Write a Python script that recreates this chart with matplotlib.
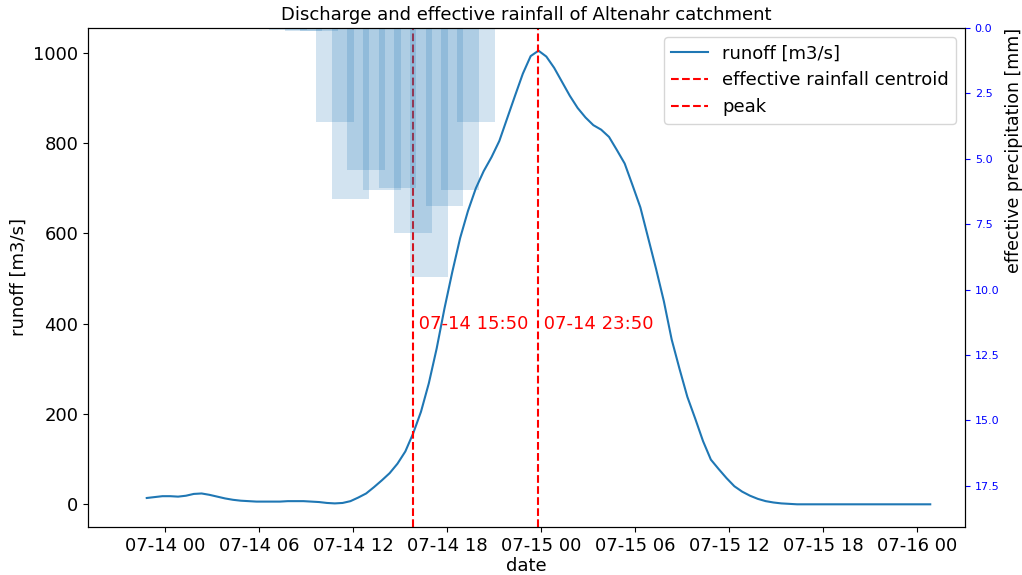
import matplotlib
matplotlib.use("Agg")
import matplotlib.pyplot as plt
import matplotlib.dates as mdates
import numpy as np
import pandas as pd

# runoff [m3/s], every 30 min from 07-13 22:50
runoff_start = "2021-07-13 22:50"
runoff = [
    14, 16, 18, 18, 17, 19, 23, 24, 21, 17,
    13, 10, 8, 7, 6, 6, 6, 6, 7, 7,
    7, 6, 5, 3, 2, 3, 7, 15, 24, 38,
    53, 69, 90, 117, 157, 205, 268, 345, 434, 515,
    590, 650, 700, 738, 769, 805, 855, 905, 954, 993,
    1005, 992, 967, 936, 905, 878, 857, 840, 830, 814,
    785, 755, 707, 658, 590, 522, 450, 365, 300, 238,
    190, 140, 99, 78, 58, 40, 28, 19, 12, 7,
    4, 2, 1, 0, 0, 0, 0, 0, 0, 0,
    0, 0, 0, 0, 0, 0, 0, 0, 0, 0, 0,
]

# effective rainfall [mm], hourly at :50, from 07-14 07:50
rain_start = "2021-07-14 07:50"
rain = [0.08, 0.1, 0.1, 3.59, 6.53, 5.42, 6.21, 6.13, 7.83, 9.54, 6.81, 6.19, 3.59]

centroid_time = "2021-07-14 15:50"
peak_time = "2021-07-14 23:50"
x_range = ["2021-07-13 19:05", "2021-07-16 03:03"]

t_runoff = pd.date_range(runoff_start, periods=len(runoff), freq="30min")
t_rain = pd.date_range(rain_start, periods=len(rain), freq="h")
t_centroid = pd.Timestamp(centroid_time)
t_peak = pd.Timestamp(peak_time)

fig, ax = plt.subplots(figsize=(10.22, 5.75), dpi=100)
fig.subplots_adjust(left=0.0861, right=0.9442, top=0.9513, bottom=0.0835)

ax.plot(t_runoff, runoff, label="runoff [m3/s]")
ax.axvline(t_centroid, color="red", linestyle="--", label="effective rainfall centroid")
ax.axvline(t_peak, color="red", linestyle="--", label="peak")
ax.text(t_centroid, 400, " " + t_centroid.strftime("%m-%d %H:%M"), color="red",
        fontsize=13, va="center", ha="left")
ax.text(t_peak, 400, " " + t_peak.strftime("%m-%d %H:%M"), color="red",
        fontsize=13, va="center", ha="left")

ax.set_xlim(pd.Timestamp(x_range[0]), pd.Timestamp(x_range[1]))
ax.xaxis.set_major_locator(mdates.HourLocator(byhour=[0, 6, 12, 18]))
ax.xaxis.set_major_formatter(mdates.DateFormatter("%m-%d %H"))
ax.tick_params(axis="both", labelsize=13)
ax.set_xlabel("date", fontsize=13, labelpad=2)
ax.set_ylabel("runoff [m3/s]", fontsize=13)
ax.set_title("Discharge and effective rainfall of Altenahr catchment", fontsize=13)
ax.legend(loc="upper right", fontsize=13)

ax2 = ax.twinx()
ax2.bar(t_rain, rain, width=0.1, alpha=0.2, color="C0")
ax2.set_ylim(2 * max(rain), 0)
ax2.tick_params(axis="y", colors="blue", labelsize=8)
ax2.set_ylabel("effective precipitation [mm]", fontsize=12.5, loc="top")

fig.savefig("out.png")
